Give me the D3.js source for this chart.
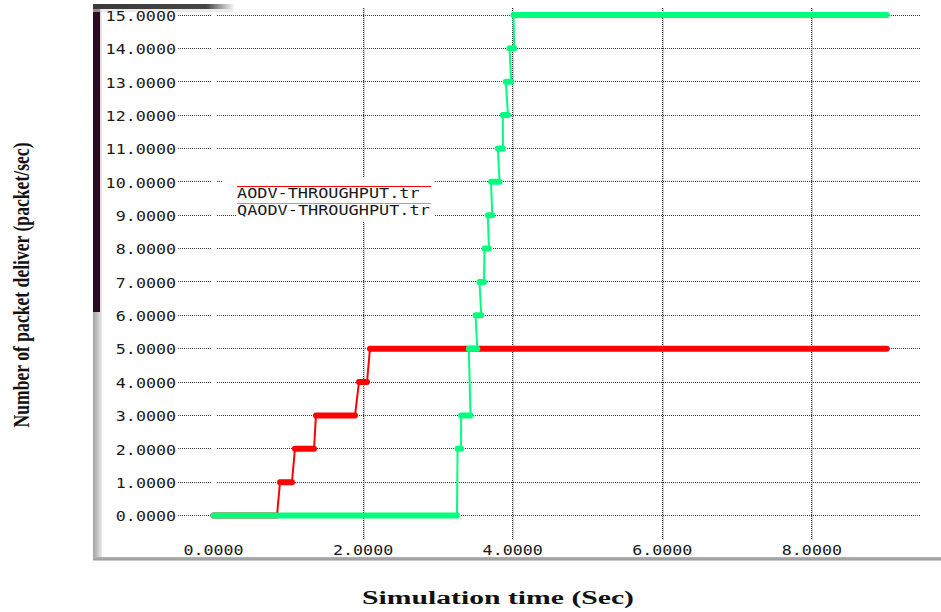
<!DOCTYPE html>
<html>
<head>
<meta charset="utf-8">
<script src="https://cdn.jsdelivr.net/npm/d3@7"></script>
<style>
  html, body { margin: 0; padding: 0; background: #ffffff; }
  svg { display: block; }
</style>
</head>
<body>
<svg id="chart" width="941" height="612"></svg>
<script>
// Throughput traces: each series is a list of held levels, each held from one time to another.
const aodvLevel = [0, 1, 2, 3, 4, 5];
const aodvFrom  = [0.000, 0.889, 1.089, 1.370, 1.945, 2.092];
const aodvTo    = [0.849, 1.049, 1.344, 1.892, 2.052, 9.000];

const qaodvLevel = [0, 2, 3, 5, 6, 7, 8, 9, 10, 11, 12, 13, 14, 15];
const qaodvFrom  = [0.000, 3.263, 3.310, 3.413, 3.503, 3.556, 3.623, 3.667, 3.710, 3.801, 3.868, 3.908, 3.957, 4.011];
const qaodvTo    = [3.255, 3.310, 3.436, 3.527, 3.580, 3.616, 3.683, 3.727, 3.825, 3.870, 3.937, 3.981, 4.020, 9.000];

const seriesNames = ["AODV-THROUGHPUT.tr", "QAODV-THROUGHPUT.tr"];
const seriesColors = ["#ff0000", "#00ff7f"];

const yTicks = [0, 1, 2, 3, 4, 5, 6, 7, 8, 9, 10, 11, 12, 13, 14, 15];
const xTicks = [0, 2, 4, 6, 8];
const xGridTicks = [2, 4, 6, 8];

const xTitle = "Simulation time (Sec)";
const yTitle = "Number of packet deliver (packet/sec)";

const fmt = d3.format(".4f");
const svg = d3.select("#chart");

const x = d3.scaleLinear().domain([0, 9]).range([213.5, 886.7]);
const y = d3.scaleLinear().domain([0, 15]).range([515.5, 15]);

const monoFont = "'DejaVu Sans Mono', 'Liberation Mono', monospace";
const charW = 10.2;

// ---- window frame ----
const defs = svg.append("defs");
const gLeft = defs.append("linearGradient").attr("id", "frameLeft").attr("x1", 0).attr("x2", 1).attr("y1", 0).attr("y2", 0);
gLeft.append("stop").attr("offset", 0).attr("stop-color", "#a2a2a2");
gLeft.append("stop").attr("offset", 0.5).attr("stop-color", "#c4c4c4");
gLeft.append("stop").attr("offset", 1).attr("stop-color", "#ececec");
const gBottom = defs.append("linearGradient").attr("id", "frameBottom").attr("x1", 0).attr("x2", 0).attr("y1", 0).attr("y2", 1);
gBottom.append("stop").attr("offset", 0).attr("stop-color", "#b8b8b8");
gBottom.append("stop").attr("offset", 0.6).attr("stop-color", "#9c9c9c");
gBottom.append("stop").attr("offset", 1).attr("stop-color", "#e0e0e0");
const gTop = defs.append("linearGradient").attr("id", "frameTop").attr("x1", 0).attr("x2", 1).attr("y1", 0).attr("y2", 0);
gTop.append("stop").attr("offset", 0).attr("stop-color", "#3a3a3a");
gTop.append("stop").attr("offset", 0.8).attr("stop-color", "#454545");
gTop.append("stop").attr("offset", 1).attr("stop-color", "#454545").attr("stop-opacity", 0);

svg.append("rect").attr("x", 93).attr("y", 4).attr("width", 9).attr("height", 556).attr("fill", "url(#frameLeft)");
svg.append("rect").attr("x", 93).attr("y", 4).attr("width", 7).attr("height", 308).attr("fill", "#2c0b22");
svg.append("rect").attr("x", 93).attr("y", 557).attr("width", 848).attr("height", 4).attr("fill", "url(#frameBottom)");
svg.append("rect").attr("x", 93).attr("y", 9).attr("width", 140).attr("height", 3).attr("fill", "#dddddd").attr("opacity", 0.6);
svg.append("rect").attr("x", 93).attr("y", 4).attr("width", 142).attr("height", 5).attr("fill", "url(#frameTop)");

// ---- grid ----
const grid = svg.append("g").attr("shape-rendering", "crispEdges");
grid.selectAll("line.vbg").data(xGridTicks).join("line")
  .attr("class", "vbg")
  .attr("x1", d => x(d) + 1).attr("x2", d => x(d) + 1)
  .attr("y1", 8).attr("y2", 540)
  .attr("stroke", "#cfcfcf").attr("stroke-width", 1);
grid.selectAll("line.v").data(xGridTicks).join("line")
  .attr("class", "v")
  .attr("x1", d => x(d)).attr("x2", d => x(d))
  .attr("y1", 8).attr("y2", 540)
  .attr("stroke", "#2a2a2a").attr("stroke-width", 1).attr("stroke-dasharray", "1,1");
[[178, 212], [217, 921]].forEach(([a, b]) => {
  grid.append("g").selectAll("line").data(yTicks).join("line")
    .attr("x1", a).attr("x2", b)
    .attr("y1", d => y(d)).attr("y2", d => y(d))
    .attr("stroke", "#3a3a3a").attr("stroke-width", 1).attr("stroke-dasharray", "1,1");
});

// ---- axes (labels only) ----
const yAxis = d3.axisLeft(y).tickValues(yTicks).tickFormat(fmt).tickSize(0).tickPadding(0);
const yg = svg.append("g").attr("transform", "translate(177,0)").call(yAxis);
yg.select(".domain").remove();
yg.selectAll("text")
  .attr("font-family", monoFont).attr("font-size", 14).attr("fill", "#1a1a1a")
  .attr("text-anchor", "start")
  .attr("x", function () { return -(this.textContent.length * charW); })
  .attr("dy", "0.38em")
  .attr("textLength", function () { return this.textContent.length * charW - 1; })
  .attr("lengthAdjust", "spacingAndGlyphs");

const xAxis = d3.axisBottom(x).tickValues(xTicks).tickFormat(fmt).tickSize(0).tickPadding(0);
const xg = svg.append("g").attr("transform", "translate(0,544)").call(xAxis);
xg.select(".domain").remove();
xg.selectAll("text")
  .attr("font-family", monoFont).attr("font-size", 14).attr("fill", "#1a1a1a")
  .attr("text-anchor", "start")
  .attr("x", function () { return -(this.textContent.length * charW) / 2; })
  .attr("y", 0).attr("dy", "0.78em")
  .attr("textLength", function () { return this.textContent.length * charW - 1; })
  .attr("lengthAdjust", "spacingAndGlyphs");

// ---- legend ----
const legend = svg.append("g");
legend.append("rect").attr("x", 223).attr("y", 177).attr("width", 212).attr("height", 24).attr("fill", "#ffffff");
legend.append("rect").attr("x", 236).attr("y", 201).attr("width", 199).attr("height", 21).attr("fill", "#ffffff");
const legendLineY = [186.5, 203.5];
const legendTextY = [198, 215];
seriesNames.forEach((name, i) => {
  legend.append("line")
    .attr("x1", 237).attr("x2", 431)
    .attr("y1", legendLineY[i]).attr("y2", legendLineY[i])
    .attr("stroke", seriesColors[i]).attr("stroke-width", 1.2);
  legend.append("text")
    .attr("x", 237).attr("y", legendTextY[i])
    .attr("font-family", monoFont).attr("font-size", 14).attr("fill", "#1a1a1a")
    .attr("textLength", name.length * charW - 1).attr("lengthAdjust", "spacingAndGlyphs")
    .text(name);
});

// ---- traces ----
function drawSeries(levels, from, to, color) {
  const pts = [];
  levels.forEach((v, i) => { pts.push([from[i], v]); pts.push([to[i], v]); });
  const line = d3.line().x(d => x(d[0])).y(d => y(d[1]));
  const g = svg.append("g");
  g.append("path").attr("d", line(pts))
    .attr("fill", "none").attr("stroke", color).attr("stroke-width", 2).attr("stroke-linejoin", "round");
  g.selectAll("line").data(levels.map((v, i) => ({ v, a: from[i], b: to[i] }))).join("line")
    .attr("x1", d => x(d.a)).attr("x2", d => x(d.b))
    .attr("y1", d => y(d.v)).attr("y2", d => y(d.v))
    .attr("stroke", color).attr("stroke-width", 6).attr("stroke-linecap", "round");
}
drawSeries(aodvLevel, aodvFrom, aodvTo, seriesColors[0]);
drawSeries(qaodvLevel, qaodvFrom, qaodvTo, seriesColors[1]);

// ---- axis titles ----
svg.append("text")
  .attr("x", 362).attr("y", 604)
  .attr("font-family", "'Liberation Serif', 'DejaVu Serif', serif")
  .attr("font-size", 18).attr("font-weight", "bold").attr("fill", "#111111")
  .attr("textLength", 272).attr("lengthAdjust", "spacingAndGlyphs")
  .text(xTitle);

svg.append("text")
  .attr("transform", "translate(29,285) scale(1.4,1) rotate(-90)")
  .attr("text-anchor", "middle")
  .attr("font-family", "'Liberation Serif', 'DejaVu Serif', serif")
  .attr("font-size", 16).attr("font-weight", "bold").attr("fill", "#111111")
  .attr("textLength", 285).attr("lengthAdjust", "spacingAndGlyphs")
  .text(yTitle);
</script>
</body>
</html>
